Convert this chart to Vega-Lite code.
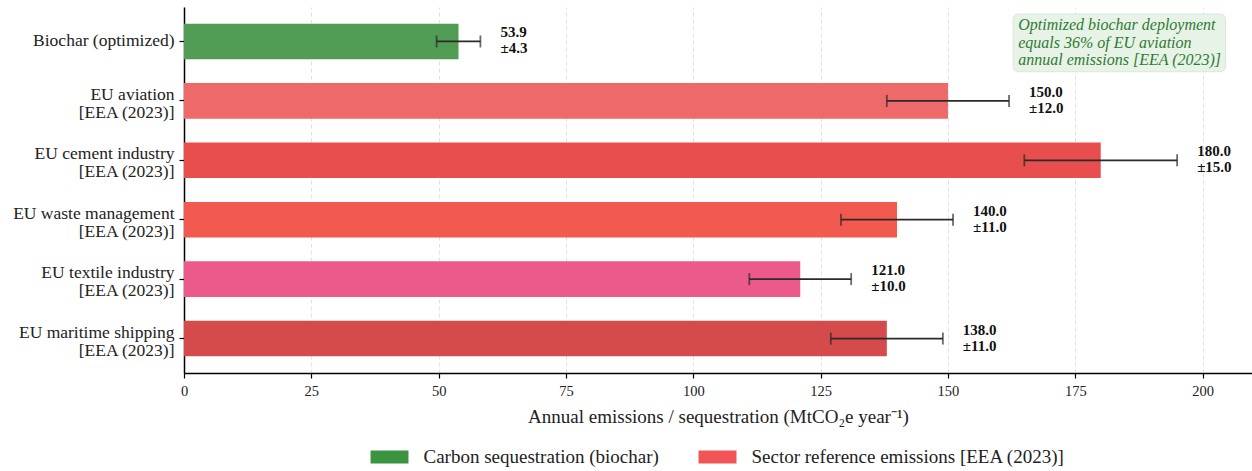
{
  "$schema": "https://vega.github.io/schema/vega-lite/v6.json",
  "width": 1068,
  "height": 366,
  "autosize": {"type": "none"},
  "padding": {"left": 184, "top": 7, "right": 0, "bottom": 98},
  "background": "white",
  "config": {
    "font": "Liberation Serif",
    "view": {"stroke": null},
    "axisX": {
      "grid": true, "gridDash": [4, 3], "gridColor": "#d9d9d9", "gridWidth": 0.8,
      "domainColor": "#000000", "domainWidth": 1.5,
      "tickColor": "#000000", "tickSize": 5, "tickWidth": 1.2,
      "labelFontSize": 14.5, "labelColor": "#222222", "labelPadding": 6, "labelFlush": false,
      "titleFontSize": 19, "titleFontWeight": "normal", "titleColor": "#222222", "titlePadding": 10
    },
    "axisY": {
      "grid": false,
      "domainColor": "#000000", "domainWidth": 1.5,
      "tickColor": "#000000", "tickSize": 5, "tickWidth": 1.2,
      "labelFontSize": 17.5, "labelColor": "#222222", "labelPadding": 5,
      "labelLineHeight": 18, "labelLimit": 400
    }
  },
  "datasets": {
    "rows": [
      {"sector": "Biochar (optimized)", "type": "Carbon sequestration (biochar)", "value": 53.9, "lo": 49.6, "hi": 58.2, "label": "53.9\n±4.3"},
      {"sector": "EU aviation [EEA (2023)]", "type": "Sector reference emissions [EEA (2023)]", "value": 150.0, "lo": 138.0, "hi": 162.0, "label": "150.0\n±12.0"},
      {"sector": "EU cement industry [EEA (2023)]", "type": "Sector reference emissions [EEA (2023)]", "value": 180.0, "lo": 165.0, "hi": 195.0, "label": "180.0\n±15.0"},
      {"sector": "EU waste management [EEA (2023)]", "type": "Sector reference emissions [EEA (2023)]", "value": 140.0, "lo": 129.0, "hi": 151.0, "label": "140.0\n±11.0"},
      {"sector": "EU textile industry [EEA (2023)]", "type": "Sector reference emissions [EEA (2023)]", "value": 121.0, "lo": 111.0, "hi": 131.0, "label": "121.0\n±10.0"},
      {"sector": "EU maritime shipping [EEA (2023)]", "type": "Sector reference emissions [EEA (2023)]", "value": 138.0, "lo": 127.0, "hi": 149.0, "label": "138.0\n±11.0"}
    ]
  },
  "layer": [
    {
      "data": {"name": "rows"},
      "encoding": {
        "y": {
          "field": "sector", "type": "nominal", "sort": null, "title": null,
          "scale": {"paddingInner": 0.4, "paddingOuter": 0.28},
          "axis": {
            "labelExpr": "indexof(datum.label, ' [') > 0 ? [substring(datum.label, 0, indexof(datum.label, ' [')), substring(datum.label, indexof(datum.label, ' [') + 1)] : datum.label",
            "labelOffset": {"condition": {"test": "indexof(datum.label, ' [') > 0", "value": -6}, "value": 0}
          }
        }
      },
      "layer": [
        {
          "mark": {"type": "bar", "opacity": 0},
          "encoding": {
            "x": {"field": "value", "type": "quantitative", "scale": {"domain": [0, 209.7], "nice": false, "zero": true}, "axis": {"values": [0, 25, 50, 75, 100, 125, 150, 175, 200]}, "title": "Annual emissions / sequestration (MtCO₂e year⁻¹)"},
            "color": {
              "field": "type", "type": "nominal",
              "scale": {"domain": ["Carbon sequestration (biochar)", "Sector reference emissions [EEA (2023)]"], "range": ["#3a9440", "#f15454"]},
              "legend": {
                "orient": "none", "legendX": 192.5, "legendY": 437, "direction": "horizontal", "title": null,
                "labelFontSize": 19, "labelColor": "#222222", "labelFont": "Liberation Serif", "labelLimit": 500,
                "symbolType": "M-1.46,-0.5H1.46V0.5H-1.46Z", "symbolSize": 676, "symbolOpacity": 1, "symbolStrokeWidth": 0,
                "labelOffset": 21, "columnPadding": 39
              }
            }
          }
        },
        {
          "mark": {"type": "bar"},
          "encoding": {
            "x": {"field": "value", "type": "quantitative", "scale": {"domain": [0, 209.7], "nice": false, "zero": true}, "axis": {"values": [0, 25, 50, 75, 100, 125, 150, 175, 200]}, "title": "Annual emissions / sequestration (MtCO₂e year⁻¹)"},
            "fill": {
              "field": "sector", "type": "nominal", "legend": null,
              "scale": {
                "domain": ["Biochar (optimized)", "EU aviation [EEA (2023)]", "EU cement industry [EEA (2023)]", "EU waste management [EEA (2023)]", "EU textile industry [EEA (2023)]", "EU maritime shipping [EEA (2023)]"],
                "range": ["#519c55", "#ee6969", "#e84e4e", "#f25a4f", "#eb5a8b", "#d54a4a"]
              }
            }
          }
        },
        {
          "mark": {"type": "errorbar", "color": "#2a2a2a", "thickness": 1.8, "ticks": {"size": 12, "thickness": 1.8}},
          "encoding": {
            "x": {"field": "lo", "type": "quantitative", "scale": {"domain": [0, 209.7], "nice": false, "zero": true}, "axis": {"values": [0, 25, 50, 75, 100, 125, 150, 175, 200]}, "title": "Annual emissions / sequestration (MtCO₂e year⁻¹)"},
            "x2": {"field": "hi"}
          }
        },
        {
          "mark": {"type": "text", "align": "left", "baseline": "middle", "dx": 20, "dy": -9, "fontSize": 15, "fontWeight": "bold", "lineBreak": "\n", "lineHeight": 16, "color": "#111111"},
          "encoding": {
            "x": {"field": "hi", "type": "quantitative", "scale": {"domain": [0, 209.7], "nice": false, "zero": true}, "axis": {"values": [0, 25, 50, 75, 100, 125, 150, 175, 200]}, "title": "Annual emissions / sequestration (MtCO₂e year⁻¹)"},
            "text": {"field": "label", "type": "nominal"}
          }
        }
      ]
    },
    {
      "data": {"values": [{}]},
      "layer": [
        {
          "mark": {"type": "rect", "fill": "#e7f3e6", "stroke": "#d8ead7", "strokeWidth": 1, "cornerRadius": 5},
          "encoding": {
            "x": {"datum": 162.8, "type": "quantitative", "scale": {"domain": [0, 209.7], "nice": false, "zero": true}, "axis": {"values": [0, 25, 50, 75, 100, 125, 150, 175, 200]}, "title": "Annual emissions / sequestration (MtCO₂e year⁻¹)"},
            "x2": {"datum": 204.5},
            "y": {"datum": -0.462, "type": "quantitative", "scale": {"domain": [-0.58, 5.58], "reverse": true, "nice": false, "zero": false}, "axis": null},
            "y2": {"datum": 0.509}
          }
        },
        {
          "mark": {"type": "text", "align": "left", "baseline": "middle", "fontStyle": "italic", "fontSize": 16, "lineHeight": 17.5, "color": "#2f7a33", "lineBreak": "\n"},
          "encoding": {
            "x": {"datum": 163.8, "type": "quantitative", "scale": {"domain": [0, 209.7], "nice": false, "zero": true}, "axis": {"values": [0, 25, 50, 75, 100, 125, 150, 175, 200]}, "title": "Annual emissions / sequestration (MtCO₂e year⁻¹)"},
            "y": {"datum": -0.277, "type": "quantitative", "scale": {"domain": [-0.58, 5.58], "reverse": true, "nice": false, "zero": false}, "axis": null},
            "text": {"value": "Optimized biochar deployment\nequals 36% of EU aviation\nannual emissions [EEA (2023)]"}
          }
        }
      ]
    }
  ],
  "resolve": {"scale": {"y": "independent"}}
}
